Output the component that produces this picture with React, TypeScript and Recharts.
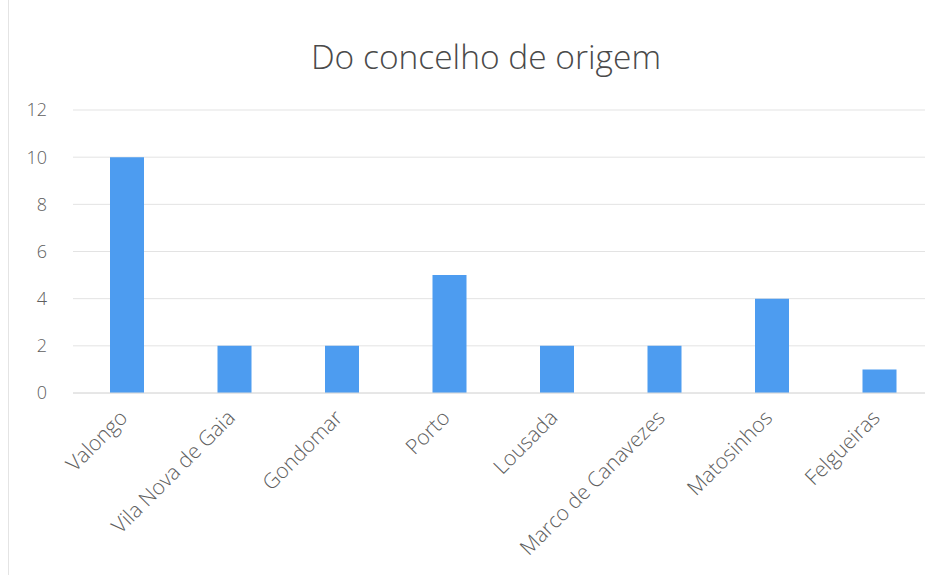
import { BarChart, Bar, XAxis, YAxis, CartesianGrid } from 'recharts';

const concelhos = [
  'Valongo',
  'Vila Nova de Gaia',
  'Gondomar',
  'Porto',
  'Lousada',
  'Marco de Canavezes',
  'Matosinhos',
  'Felgueiras',
];
const contagens = [10, 2, 2, 5, 2, 2, 4, 1];
const yTicks = [0, 2, 4, 6, 8, 10, 12];

const data = concelhos.map((nome, i) => ({ nome, valor: contagens[i] }));

const FONT = '"Open Sans", "Liberation Sans", sans-serif';
const TEXT = '#5e5e5e';

function RotatedTick({ x, y, payload }: { x?: number; y?: number; payload?: { value: string } }) {
  const tx = (x ?? 0) + 2;
  const ty = (y ?? 0) + 18;
  return (
    <text
      x={tx}
      y={ty}
      transform={`rotate(-45, ${tx}, ${ty})`}
      textAnchor="end"
      fill={TEXT}
      fontSize={21}
      fontFamily={FONT}
      fontWeight={300}
    >
      {payload?.value}
    </text>
  );
}

export default function App() {
  return (
    <div
      style={{
        position: 'fixed',
        top: 0,
        left: 0,
        width: 925,
        height: 575,
        overflow: 'hidden',
        background: '#fff',
      }}
    >
      <div style={{ position: 'absolute', left: 8, top: 0, width: 1, height: 575, background: '#e4e4e4' }} />
      <div
        style={{
          position: 'absolute',
          top: 33,
          left: 0,
          width: 972,
          textAlign: 'center',
          fontFamily: FONT,
          fontSize: 33.5,
          fontWeight: 300,
          color: '#4a4a4a',
        }}
      >
        Do concelho de origem
      </div>
      <BarChart
        width={945}
        height={575}
        data={data}
        margin={{ top: 110, right: 12, left: 13, bottom: 12 }}
      >
        <CartesianGrid vertical={false} stroke="#e3e3e3" />
        <XAxis
          dataKey="nome"
          interval={0}
          height={170}
          tickLine={false}
          axisLine={{ stroke: '#dcdcdc' }}
          tick={<RotatedTick />}
        />
        <YAxis
          width={60}
          domain={[0, 12]}
          ticks={yTicks}
          tickLine={false}
          axisLine={false}
          tickSize={0}
          tickMargin={26}
          tick={{ fill: TEXT, fontSize: 18, fontFamily: FONT, fontWeight: 300 }}
        />
        <Bar dataKey="valor" fill="#4d9cf0" barSize={34} isAnimationActive={false} />
      </BarChart>
    </div>
  );
}
